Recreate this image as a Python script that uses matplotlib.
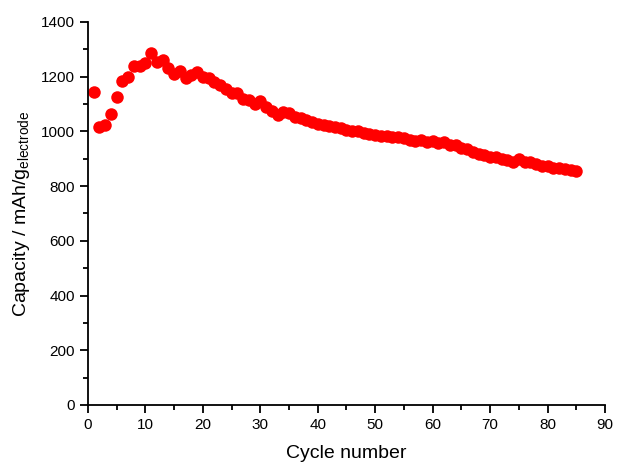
import matplotlib
matplotlib.use('Agg')
import matplotlib.pyplot as plt
from matplotlib.ticker import MultipleLocator

plt.rcParams['font.family'] = ['Liberation Sans', 'DejaVu Sans']
plt.rcParams['mathtext.fontset'] = 'custom'
plt.rcParams['mathtext.rm'] = 'Liberation Sans'

cycles = list(range(1, 86))
capacity = [1145, 1015, 1022, 1065, 1125, 1185, 1200, 1240, 1238, 1250,
            1288, 1252, 1262, 1230, 1210, 1222, 1195, 1208, 1218, 1200,
            1195, 1180, 1170, 1155, 1140, 1140, 1120, 1115, 1100, 1110,
            1088, 1075, 1060, 1070, 1068, 1052, 1048, 1040, 1035, 1028,
            1022, 1018, 1015, 1012, 1005, 1002, 1000, 995, 990, 988,
            985, 985, 980, 978, 975, 970, 965, 968, 962, 965,
            958, 960, 952, 950, 940, 935, 925, 918, 912, 908,
            905, 900, 895, 890, 898, 888, 890, 880, 875, 872,
            868, 865, 862, 858, 855]

fig = plt.figure(figsize=(6.21, 4.63), dpi=100)
ax = fig.add_axes([0.1417, 0.1253, 0.9742 - 0.1417, 0.9525 - 0.1253])

ax.plot(cycles, capacity, 'o', color='#ff0000', markersize=9, markeredgewidth=0)

ax.set_xlim(0, 90)
ax.set_ylim(0, 1400)
ax.xaxis.set_major_locator(MultipleLocator(10))
ax.xaxis.set_minor_locator(MultipleLocator(5))
ax.yaxis.set_major_locator(MultipleLocator(200))
ax.yaxis.set_minor_locator(MultipleLocator(100))

for s in ['top', 'right']:
    ax.spines[s].set_visible(False)
for s in ['left', 'bottom']:
    ax.spines[s].set_linewidth(1.3)

ax.tick_params(which='major', direction='out', length=6, width=1.3, labelsize=11)
ax.tick_params(which='minor', direction='out', length=3.5, width=1.3)

ax.set_xlabel('Cycle number', fontsize=14, labelpad=9)
ax.set_ylabel(r'Capacity / mAh/g$_{\mathregular{electrode}}$', fontsize=14, labelpad=6)

fig.savefig('out.png', dpi=100)
